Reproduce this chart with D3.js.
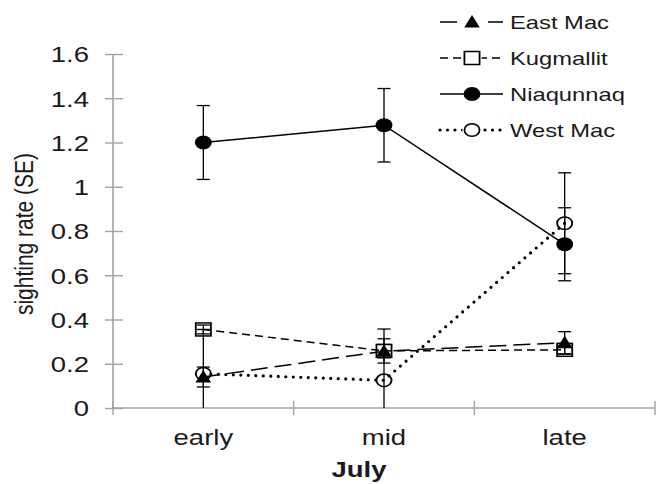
<!DOCTYPE html>
<html>
<head>
<meta charset="utf-8">
<script src="https://cdn.jsdelivr.net/npm/d3@7"></script>
<style>
  body { margin: 0; background: #fff; }
  text { font-family: "Liberation Sans", Arial, sans-serif; fill: #1a1a1a; }
</style>
</head>
<body>
<div id="chart"></div>
<script>
// data
const categories = ["early", "mid", "late"];
const seriesNames = ["East Mac", "Kugmallit", "Niaqunnaq", "West Mac"];
const eastMac = [0.14, 0.257, 0.295];
const eastMacSE = [0.045, 0.03, 0.05];
const kugmallit = [0.355, 0.258, 0.263];
const kugmallitSE = [0.02, 0.055, 0.02];
const niaqunnaq = [1.2, 1.278, 0.74];
const niaqunnaqSE = [0.167, 0.166, 0.165];
const westMac = [0.155, 0.125, 0.835];
const westMacSE = [0.2, 0.232, 0.228];
const yTicks = [0, 0.2, 0.4, 0.6, 0.8, 1, 1.2, 1.4, 1.6];

const W = 660, H = 484;
const SX = 1.25; // text in the picture is stretched sideways

const svg = d3.select("#chart").append("svg")
  .attr("width", W).attr("height", H);

const x = d3.scaleBand().domain(categories).range([113, 655]);
const y = d3.scaleLinear().domain([0, 1.6]).range([408, 54]);
const cx = (c) => x(c) + x.bandwidth() / 2;

const series = [
  { name: seriesNames[0], values: eastMac, se: eastMacSE, dash: "17,7", width: 1.5, marker: "triangle" },
  { name: seriesNames[1], values: kugmallit, se: kugmallitSE, dash: "8,5", width: 1.5, marker: "square" },
  { name: seriesNames[2], values: niaqunnaq, se: niaqunnaqSE, dash: null, width: 1.5, marker: "dot" },
  { name: seriesNames[3], values: westMac, se: westMacSE, dash: "0,7.5", width: 3.2, marker: "circle" },
];

// axes
const axisColor = "#a3a3a3";
const yAxis = svg.append("g")
  .attr("transform", "translate(113,0)")
  .call(d3.axisLeft(y).tickValues(yTicks).tickSize(8).tickFormat(d3.format("")));
yAxis.select(".domain").attr("stroke", axisColor).attr("stroke-width", 1.6)
  .attr("d", `M0,${y(1.6)}V${y(0)}`);
yAxis.selectAll(".tick line").attr("stroke", axisColor).attr("stroke-width", 1.4)
  .attr("x1", 10).attr("x2", -8);
yAxis.selectAll(".tick text")
  .attr("x", null).attr("dy", "0.36em")
  .attr("transform", `translate(-24,0) scale(${SX},1)`)
  .attr("font-size", 22).attr("fill", "#1a1a1a")
  .attr("text-anchor", "end");

const xAxis = svg.append("g")
  .attr("transform", `translate(0,${y(0)})`)
  .call(d3.axisBottom(x).tickSize(0));
xAxis.select(".domain").attr("stroke", axisColor).attr("stroke-width", 1.6)
  .attr("d", `M113,0H655`);
xAxis.selectAll(".tick text")
  .attr("y", null).attr("dy", null)
  .attr("transform", `translate(0,37) scale(${SX},1)`)
  .attr("font-size", 22).attr("fill", "#1a1a1a");
// boundary ticks between categories
const bounds = categories.map((c) => x(c)).concat([x.range()[1]]);
xAxis.selectAll(".bound").data(bounds).enter().append("line")
  .attr("class", "bound")
  .attr("x1", (d) => d).attr("x2", (d) => d)
  .attr("y1", -7).attr("y2", 7)
  .attr("stroke", axisColor).attr("stroke-width", 1.4);

// axis titles
svg.append("text")
  .attr("transform", `translate(359,477) scale(${SX},1)`)
  .attr("text-anchor", "middle")
  .attr("font-size", 22).attr("font-weight", "bold")
  .text("July");
svg.append("text")
  .attr("transform", "translate(33,234) rotate(-90) scale(1,1.2)")
  .attr("text-anchor", "middle")
  .attr("font-size", 21)
  .text("sighting rate (SE)");

// lines
const line = d3.line().x((d) => cx(d.c)).y((d) => y(d.v));
series.forEach((s) => {
  const pts = categories.map((c, i) => ({ c, v: s.values[i] }));
  svg.append("path")
    .datum(pts)
    .attr("d", line)
    .attr("fill", "none")
    .attr("stroke", "#000")
    .attr("stroke-width", s.width)
    .attr("stroke-linecap", s.marker === "circle" ? "round" : "butt")
    .attr("stroke-dasharray", s.dash);
});

// error bars
const capW = 6.5;
series.forEach((s) => {
  const eb = categories.map((c, i) => ({
    c,
    lo: s.values[i] - s.se[i],
    hi: s.values[i] + s.se[i],
  }));
  const g = svg.append("g").attr("stroke", "#000").attr("stroke-width", 1.3);
  g.selectAll(".v").data(eb).enter().append("line")
    .attr("x1", (d) => cx(d.c)).attr("x2", (d) => cx(d.c))
    .attr("y1", (d) => y(Math.max(0, d.lo))).attr("y2", (d) => y(d.hi));
  g.selectAll(".top").data(eb).enter().append("line")
    .attr("x1", (d) => cx(d.c) - capW).attr("x2", (d) => cx(d.c) + capW)
    .attr("y1", (d) => y(d.hi)).attr("y2", (d) => y(d.hi));
  g.selectAll(".bot").data(eb.filter((d) => d.lo > 0)).enter().append("line")
    .attr("x1", (d) => cx(d.c) - capW).attr("x2", (d) => cx(d.c) + capW)
    .attr("y1", (d) => y(d.lo)).attr("y2", (d) => y(d.lo));
});

// markers
const drawMarker = (sel, type) => {
  if (type === "triangle") {
    sel.append("path").attr("d", "M0,-7L6.5,5.5L-6.5,5.5Z").attr("fill", "#000");
  } else if (type === "square") {
    sel.append("rect").attr("x", -6.3).attr("y", -6.5).attr("width", 12.6).attr("height", 13)
      .attr("fill", "none").attr("stroke", "#000").attr("stroke-width", 1.5);
  } else if (type === "dot") {
    sel.append("circle").attr("r", 7).attr("fill", "#000");
  } else {
    sel.append("circle").attr("r", 6.3).attr("fill", "none")
      .attr("stroke", "#000").attr("stroke-width", 1.5);
  }
};
series.forEach((s) => {
  const m = svg.append("g").selectAll("g")
    .data(categories.map((c, i) => ({ c, v: s.values[i] })))
    .enter().append("g")
    .attr("transform", (d) => `translate(${cx(d.c)},${y(d.v)}) scale(1.2,1)`);
  drawMarker(m, s.marker);
});

// legend
const legY = d3.scalePoint().domain(seriesNames).range([22, 130]);
const leg = svg.append("g").selectAll("g").data(series).enter().append("g")
  .attr("transform", (d) => `translate(0,${legY(d.name)})`);
leg.append("line")
  .attr("x1", 440).attr("x2", 503).attr("y1", 0).attr("y2", 0)
  .attr("stroke", "#000")
  .attr("stroke-width", (d) => d.width)
  .attr("stroke-linecap", (d) => d.marker === "circle" ? "round" : "butt")
  .attr("stroke-dasharray", (d) => d.dash ? d.dash : null);
leg.each(function (d) {
  const mg = d3.select(this).append("g").attr("transform", "translate(472,0) scale(1.2,1)");
  if (d.marker !== "dot") {
    mg.append("rect").attr("x", -8).attr("y", -8).attr("width", 16).attr("height", 16).attr("fill", "#fff");
  }
  drawMarker(mg, d.marker);
});
leg.append("text")
  .attr("transform", `translate(510,7) scale(${SX},1)`)
  .attr("font-size", 19)
  .text((d) => d.name);
</script>
</body>
</html>
